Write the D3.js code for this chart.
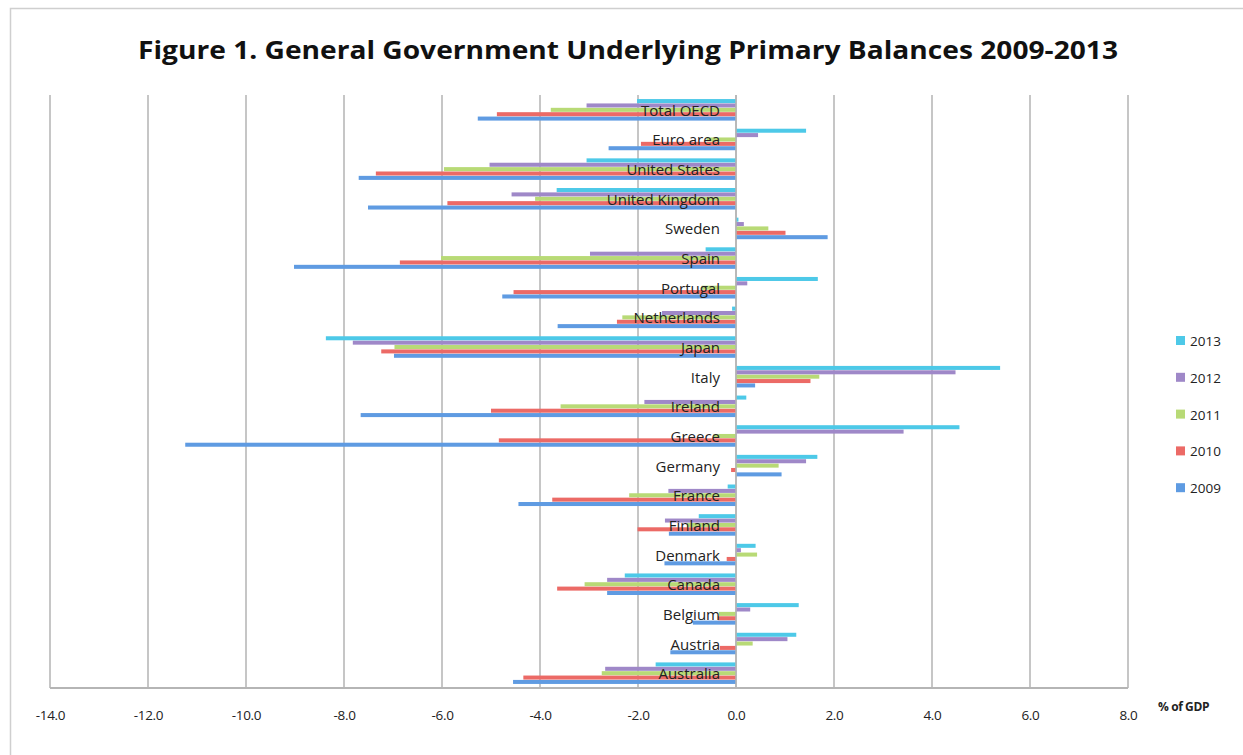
<!DOCTYPE html>
<html>
<head>
<meta charset="utf-8">
<script src="https://cdn.jsdelivr.net/npm/d3@7"></script>
<style>
  html, body { margin: 0; padding: 0; background: #fff; }
  svg { display: block; }
  text { font-family: "Open Sans", Lato, sans-serif; }
</style>
</head>
<body>
<svg id="chart" width="1243" height="755"></svg>
<script>
// Countries, bottom to top as they stack on the axis
const countries = ["Australia", "Austria", "Belgium", "Canada", "Denmark", "Finland", "France",
  "Germany", "Greece", "Ireland", "Italy", "Japan", "Netherlands", "Portugal", "Spain",
  "Sweden", "United Kingdom", "United States", "Euro area", "Total OECD"];

const years = ["2009", "2010", "2011", "2012", "2013"];

// Underlying primary balance, % of GDP, one array per year (same order as countries)
const v2009 = [-4.55, -1.34, -0.88, -2.63, -1.46, -1.37, -4.44, 0.93, -11.24, -7.66, 0.39, -6.98, -3.64, -4.77, -9.02, 1.87, -7.51, -7.70, -2.60, -5.27];
const v2010 = [-4.34, -0.33, -0.37, -3.65, -0.19, -2.01, -3.75, -0.10, -4.84, -5.00, 1.52, -7.24, -2.43, -4.54, -6.86, 1.01, -5.89, -7.35, -1.94, -4.88];
const v2011 = [-2.74, 0.34, -0.35, -3.09, 0.43, -1.00, -2.18, 0.87, -0.46, -3.58, 1.70, -6.97, -2.32, -0.70, -6.02, 0.66, -4.10, -5.96, -0.60, -3.78];
const v2012 = [-2.67, 1.05, 0.29, -2.63, 0.10, -1.45, -1.38, 1.43, 3.42, -1.87, 4.48, -7.82, -1.51, 0.23, -2.98, 0.16, -4.58, -5.03, 0.45, -3.05];
const v2013 = [-1.64, 1.23, 1.28, -2.27, 0.40, -0.76, -0.17, 1.66, 4.56, 0.21, 5.39, -8.37, -0.08, 1.67, -0.62, 0.05, -3.66, -3.05, 1.43, -2.02];

const xTicks = [-14, -12, -10, -8, -6, -4, -2, 0, 2, 4, 6, 8];
const colors = ["#5e9be2", "#ec6a66", "#b8da76", "#9f88c8", "#4ec9e8"];

const seriesValues = [v2009, v2010, v2011, v2012, v2013];

const svg = d3.select("#chart");

// outer frame (runs off the right and bottom edges)
svg.append("rect")
  .attr("x", 10.5).attr("y", 8.5).attr("width", 1260).attr("height", 770)
  .attr("fill", "none").attr("stroke", "#cfcfcf").attr("stroke-width", 1.5);

const plot = { left: 50, right: 1128, top: 95, bottom: 688 };

const x = d3.scaleLinear().domain([-14, 8]).range([plot.left, plot.right]);

// categories: Australia at the bottom, Total OECD at the top
const y = d3.scaleBand()
  .domain(countries)
  .range([plot.bottom, plot.top])
  .paddingInner(0.25)
  .paddingOuter(0.125);

// within a group 2013 sits on top, 2009 at the bottom
const y1 = d3.scaleBand()
  .domain(years.slice().reverse())
  .range([0, y.bandwidth()])
  .padding(0.08);

// vertical gridlines
svg.append("g")
  .selectAll("line")
  .data(xTicks)
  .join("line")
  .attr("x1", d => x(d)).attr("x2", d => x(d))
  .attr("y1", plot.top).attr("y2", plot.bottom)
  .attr("stroke", "#c6c6c6").attr("stroke-width", 2);

// bars, slightly softened edges
const defs = svg.append("defs");
defs.append("filter").attr("id", "soft")
  .attr("x", "-5%").attr("y", "-50%").attr("width", "110%").attr("height", "200%")
  .append("feGaussianBlur").attr("stdDeviation", 0.4);

const rows = [];
countries.forEach((c, i) => {
  years.forEach((yr, j) => rows.push({ country: c, year: yr, value: seriesValues[j][i], color: colors[j] }));
});

svg.append("g")
  .attr("filter", "url(#soft)")
  .selectAll("rect")
  .data(rows)
  .join("rect")
  .attr("x", d => x(Math.min(0, d.value)))
  .attr("width", d => Math.abs(x(d.value) - x(0)))
  .attr("y", d => y(d.country) + y1(d.year))
  .attr("height", y1.bandwidth())
  .attr("fill", d => d.color);

// zero line and bottom axis line
svg.append("line")
  .attr("x1", x(0)).attr("x2", x(0))
  .attr("y1", plot.top).attr("y2", plot.bottom)
  .attr("stroke", "#b5b5b5").attr("stroke-width", 1.5);

svg.append("line")
  .attr("x1", plot.left).attr("x2", plot.right)
  .attr("y1", plot.bottom).attr("y2", plot.bottom)
  .attr("stroke", "#b5b5b5").attr("stroke-width", 2);

// category labels, right-aligned just left of zero
svg.append("g")
  .selectAll("text")
  .data(countries)
  .join("text")
  .attr("x", x(0) - 16)
  .attr("y", d => y(d) + y.bandwidth() / 2 + 6)
  .attr("text-anchor", "end")
  .attr("font-size", 15)
  .attr("fill", "#222")
  .text(d => d);

// x tick labels, plain hyphen for negatives
const fmt = d3.format(".1f");
const xAxis = d3.axisBottom(x)
  .tickValues(xTicks)
  .tickFormat(d => fmt(d).replace("\u2212", "-"))
  .tickSize(0)
  .tickPadding(22);

const gx = svg.append("g")
  .attr("transform", `translate(0,${plot.bottom})`)
  .call(xAxis);
gx.select(".domain").remove();
gx.selectAll("text")
  .attr("font-family", "Lato, 'Open Sans', sans-serif")
  .attr("font-size", 13.5)
  .attr("fill", "#222")
  .style("letter-spacing", "-0.3px");

svg.append("text")
  .attr("x", 1158).attr("y", 711)
  .attr("font-size", 12)
  .attr("font-weight", "bold")
  .attr("fill", "#222")
  .style("letter-spacing", "-0.4px")
  .text("% of GDP");

// title
svg.append("text")
  .attr("x", 628).attr("y", 59)
  .attr("text-anchor", "middle")
  .attr("font-size", 25)
  .attr("font-weight", "bold")
  .attr("fill", "#111")
  .attr("textLength", 980)
  .attr("lengthAdjust", "spacingAndGlyphs")
  .text("Figure 1. General Government Underlying Primary Balances 2009-2013");

// legend, 2013 on top
const legend = svg.append("g")
  .selectAll("g")
  .data(years.slice().reverse())
  .join("g")
  .attr("transform", (d, i) => `translate(1176,${336 + i * 36.8})`);

legend.append("rect")
  .attr("width", 9).attr("height", 9)
  .attr("fill", d => colors[years.indexOf(d)]);

legend.append("text")
  .attr("x", 14).attr("y", 10)
  .attr("font-size", 13.5)
  .attr("fill", "#222")
  .text(d => d);
</script>
</body>
</html>
